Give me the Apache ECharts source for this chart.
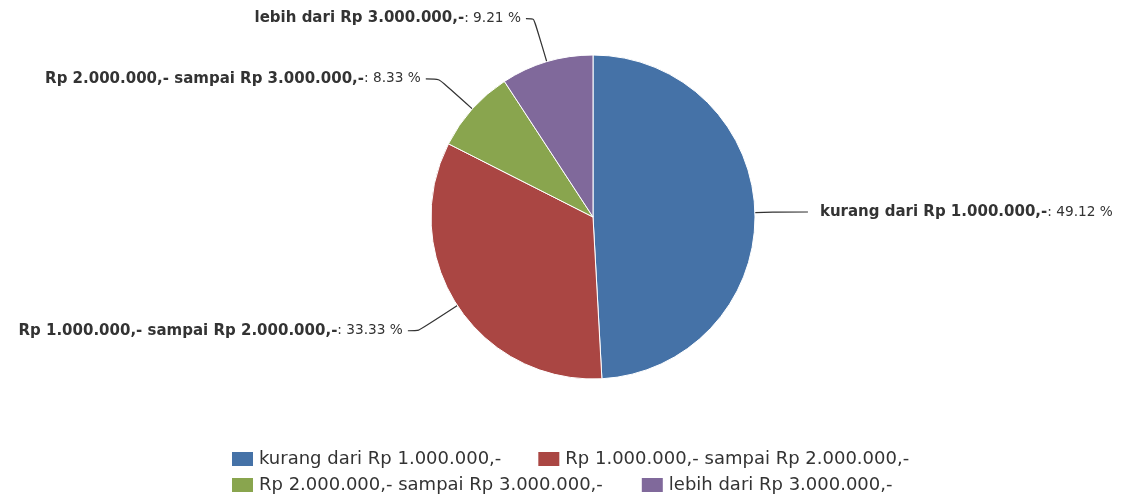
<!DOCTYPE html>
<html>
<head>
<meta charset="utf-8">
<script src="https://cdn.jsdelivr.net/npm/echarts@6/dist/echarts.min.js"></script>
<style>
  html, body { margin: 0; padding: 0; background: #fff; }
  #chart { width: 1128px; height: 500px; }
</style>
</head>
<body>
<div id="chart"></div>
<script>
// kategori penghasilan dan persentasenya
var categories = [
  "kurang dari Rp 1.000.000,-",
  "Rp 1.000.000,- sampai Rp 2.000.000,-",
  "Rp 2.000.000,- sampai Rp 3.000.000,-",
  "lebih dari Rp 3.000.000,-"
];
var percents = [49.12, 33.33, 8.33, 9.21];
var colors = ["#4572A7", "#AA4643", "#89A54E", "#80699B"];

// panjang garis label per irisan
var lineLen = [20, 46, 45, 45];
var lineLen2 = [33, 11, 13, 8];

var font = "DejaVu Sans";

var chart = echarts.init(document.getElementById("chart"));

var pieData = categories.map(function (name, i) {
  return {
    name: name,
    value: percents[i],
    itemStyle: { color: colors[i] },
    labelLine: { length: lineLen[i], length2: lineLen2[i] },
    label: i === 0 ? { distanceToLabelLine: 12 } : {}
  };
});

function legendRow(top, gap, names) {
  return {
    left: 230,
    top: top,
    padding: 0,
    orient: "horizontal",
    icon: "rect",
    itemWidth: 23,
    itemHeight: 16,
    itemGap: gap,
    itemTextGap: 7,
    selectedMode: false,
    data: names,
    textStyle: { fontFamily: font, fontSize: 18, color: "#333" }
  };
}

chart.setOption({
  animation: false,
  legend: [
    legendRow(450, 35, [categories[0], categories[1]]),
    legendRow(476, 37, [categories[2], categories[3]])
  ],
  series: [
    {
      name: "Penghasilan",
      type: "pie",
      center: [593, 217],
      radius: 162,
      startAngle: 90,
      clockwise: true,
      avoidLabelOverlap: false,
      itemStyle: { borderColor: "#fff", borderWidth: 1 },
      label: {
        show: true,
        formatter: "{n|{b}}{v|: {c} %}",
        rich: {
          n: { fontFamily: font, fontSize: 15, fontWeight: "bold", color: "#333" },
          v: { fontFamily: font, fontSize: 13.7, color: "#333" }
        }
      },
      labelLine: {
        show: true,
        smooth: 0.2,
        lineStyle: { color: "#333", width: 1.2 }
      },
      emphasis: { disabled: true },
      data: pieData
    }
  ]
});
</script>
</body>
</html>
